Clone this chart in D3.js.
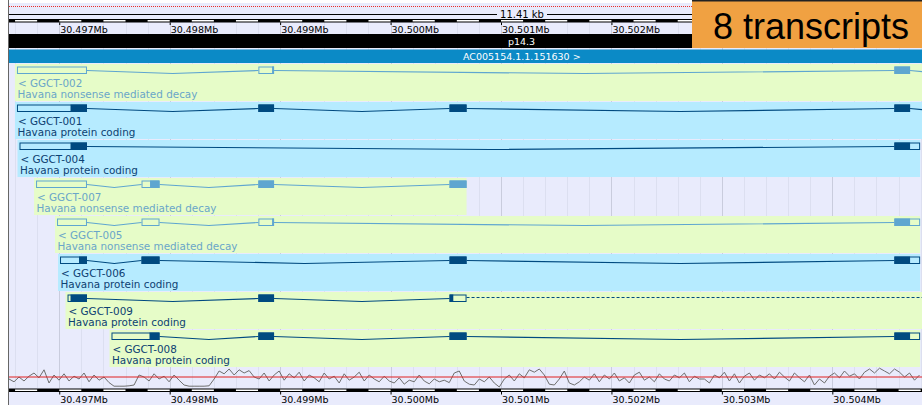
<!DOCTYPE html>
<html>
<head>
<meta charset="utf-8">
<script src="https://cdn.jsdelivr.net/npm/d3@7"></script>
<style>
body { margin: 0; background: #fff; }
svg { display: block; font-family: "DejaVu Sans", sans-serif; }
</style>
</head>
<body>
<svg id="view" width="922" height="405"></svg>
<script>
// region shown (bp)
var regionStart = 30496545, regionEnd = 30504812;
var regionLabel = "11.41 kb";
var bandLabel = "p14.3";
var contigLabel = "AC005154.1.1.151630 >";
var countLabel = "8 transcripts";
var tickValues = [30497000, 30498000, 30499000, 30500000, 30501000, 30502000, 30503000, 30504000];
var tickLabels = ["30.497Mb", "30.498Mb", "30.499Mb", "30.500Mb", "30.501Mb", "30.502Mb", "30.503Mb", "30.504Mb"];

// transcripts, top to bottom
var names = ["GGCT-002", "GGCT-001", "GGCT-004", "GGCT-007", "GGCT-005", "GGCT-006", "GGCT-009", "GGCT-008"];
var biotypes = ["nmd", "pc", "pc", "nmd", "nmd", "pc", "pc", "pc"];
var biotypeText = {nmd: "Havana nonsense mediated decay", pc: "Havana protein coding"};
var highlights = ["green", "blue", "blue", "green", "green", "blue", "green", "green"];
var exons = [
    [[30496617, 30497251], [30498803, 30498945], [30504562, 30504704], [30505300, 30505400]],
    [[30496617, 30497251], [30498803, 30498945], [30500534, 30500688], [30504562, 30504704], [30505300, 30505400]],
    [[30496640, 30497251], [30504562, 30504795]],
    [[30496790, 30497251], [30497745, 30497908], [30498803, 30498945], [30500534, 30500688]],
    [[30496980, 30497251], [30497745, 30497908], [30498803, 30498945], [30504562, 30504795]],
    [[30497007, 30497251], [30497745, 30497908], [30500534, 30500688], [30504562, 30504795]],
    [[30497075, 30497251], [30498803, 30498945], [30500534, 30500688]],
    [[30497473, 30497908], [30498803, 30498945], [30500534, 30500688], [30504562, 30504795]]
];
var cdsStarts = [30498927, 30497102, 30497102, 30497822, 30498927, 30497179, 30497102, 30497817];
var cdsEnds = [30505400, 30505400, 30504704, 30500688, 30504704, 30504704, 30500568, 30504704];
var dashedEnds = [null, null, null, null, null, null, 30505400, null];

// GC content, %, one value every gcStep bp
var gcStart = 30496545, gcStep = 45.3;
var gcValues = [
    45, 38, 50, 40, 52, 60, 48, 68, 35, 55, 42,
    58, 40, 52, 45, 60, 38, 55, 42, 50, 36,
    27, 27, 27, 28, 30,
    55, 50, 40, 58, 45, 52, 38, 55, 42, 30,
    27, 27, 27, 27, 28,
    45, 65, 58, 70, 55, 68, 60, 66, 50,
    45, 60, 40, 55, 65, 42, 58, 48, 62, 40, 55,
    48, 38, 60, 45, 52, 35, 58, 42, 50, 62, 40, 55, 45, 38, 52,
    40, 35, 48, 32, 42, 38, 55, 40, 33, 45, 38, 42, 36, 60,
    65, 40, 32, 30, 45, 38, 50, 35, 25,
    45, 55, 40, 58, 48, 68, 62, 70, 55,
    32, 30, 45, 65, 35, 30, 38,
    50, 42, 58, 38, 55, 45, 60, 40, 48, 35, 55, 62, 42, 50, 38, 58, 45, 40, 55, 48, 60, 38, 52, 45,
    45, 35, 55, 48, 62, 40, 58, 35, 52, 60, 42, 55, 48,
    58, 45, 62, 50, 40, 60, 48, 38, 55, 30, 45, 35, 52,
    60, 48, 65, 52, 58, 45,
    62, 70, 60, 72, 65, 58, 70, 62,
    50, 60, 42, 55
];

var colors = {
    bg: "#e9ebfc", gridMinor: "#dcdff0", gridMajor: "#c9ccdd",
    green: "#e6fcc8", blue: "#b6ebff",
    nmd: "#5fa6d0", pc: "#004a80",
    nmdText: "#6aa6c9", pcText: "#0d4172",
    contig: "#0b8ac6", orange: "#f0a142"
};

var left = 9, right = 922, rowTop = 64, rowStep = 38, rowH = 37;
var badgeLeft = 692;
var x = d3.scaleLinear().domain([regionStart, regionEnd]).range([left, right]);
var gcY = d3.scaleLinear().domain([0, 100]).range([397, 357]);

var svg = d3.select("#view");
svg.append("defs").append("clipPath").attr("id", "clip")
    .append("rect").attr("x", left).attr("y", 0).attr("width", right - left).attr("height", 405);

svg.append("rect").attr("x", left).attr("y", 3).attr("width", right - left).attr("height", 402).attr("fill", colors.bg);
svg.append("line").attr("x1", left - 0.5).attr("x2", left - 0.5).attr("y1", 0).attr("y2", 405)
    .attr("stroke", "#666").attr("stroke-width", 1);

var main = svg.append("g").attr("clip-path", "url(#clip)");

// grid
var gridPos = d3.range(Math.ceil(regionStart / 200) * 200, regionEnd, 200);
main.selectAll(".grid").data(gridPos).enter().append("line")
    .attr("x1", function (d) { return Math.round(x(d)) + 0.5; })
    .attr("x2", function (d) { return Math.round(x(d)) + 0.5; })
    .attr("y1", 22).attr("y2", 388)
    .attr("stroke", function (d) { return d % 1000 == 0 ? colors.gridMajor : colors.gridMinor; });

// top: red dotted + length line
main.append("line").attr("x1", left).attr("x2", badgeLeft).attr("y1", 6.5).attr("y2", 6.5)
    .attr("stroke", "#e8302a").attr("stroke-dasharray", "1,1");
main.append("line").attr("x1", left).attr("x2", badgeLeft).attr("y1", 14.5).attr("y2", 14.5).attr("stroke", "#000");
main.append("rect").attr("x", 497).attr("y", 9).attr("width", 50).attr("height", 10).attr("fill", colors.bg);
main.append("text").attr("x", 522).attr("y", 18).attr("text-anchor", "middle")
    .attr("font-size", 10).attr("fill", "#000").text(regionLabel);

function ruler(y, labelY, maxX) {
    var segs = d3.range(Math.floor(regionStart / 200) * 200, regionEnd, 200);
    var ticks = tickValues.filter(function (d) { return x(d) + 50 < maxX; });
    main.append("rect").attr("x", left).attr("y", y).attr("width", maxX - left).attr("height", 3.5).attr("fill", "#000");
    main.selectAll(null).data(segs.filter(function (d) { return (d / 200) % 2 == 1 && x(d) < maxX; })).enter().append("rect")
        .attr("x", function (d) { return x(d); })
        .attr("width", function (d) { return Math.min(x(d + 200), maxX) - x(d); })
        .attr("y", y + 1).attr("height", 1.5).attr("fill", "#fff");
    var axis = d3.axisBottom(x).tickValues(ticks)
        .tickFormat(function (d) { return tickLabels[tickValues.indexOf(d)]; })
        .tickSize(2.5).tickSizeOuter(0);
    var g = main.append("g").attr("transform", "translate(0," + (y + 3.5) + ")").call(axis);
    g.select(".domain").remove();
    g.selectAll("text").attr("text-anchor", "start").attr("dx", 0).attr("x", 0.5)
        .attr("y", labelY - y - 3.5).attr("dy", 0)
        .attr("font-family", "DejaVu Sans, sans-serif").attr("font-size", 9.5).attr("fill", "#000");
}
ruler(19, 32.5, badgeLeft);

// chromosome band + contig
main.append("rect").attr("x", left).attr("y", 34).attr("width", right - left).attr("height", 14).attr("fill", "#000");
main.append("text").attr("x", 521.5).attr("y", 45).attr("text-anchor", "middle")
    .attr("font-size", 9.5).attr("fill", "#fff").text(bandLabel);
main.append("rect").attr("x", left).attr("y", 49.5).attr("width", right - left).attr("height", 13.5).attr("fill", colors.contig);
main.append("text").attr("x", 463).attr("y", 59.5)
    .attr("font-size", 9.5).attr("fill", "#fff").text(contigLabel);

// transcripts
names.forEach(function (name, i) {
    var top = rowTop + rowStep * i;
    var ex = exons[i];
    var bt = biotypes[i];
    var col = colors[bt];
    var tStart = ex[0][0];
    var tEnd = dashedEnds[i] || ex[ex.length - 1][1];
    var cy = top + 6.5;
    var g = main.append("g");

    var bgRight = Math.min(right, Math.max(x(tEnd), x(tStart) + 190));
    g.append("rect").attr("x", x(tStart) - 2).attr("y", top).attr("width", bgRight - x(tStart) + 2)
        .attr("height", rowH).attr("fill", colors[highlights[i]]);

    // introns as shallow hats
    var introns = d3.pairs(ex).map(function (p) { return [p[0][1], p[1][0]]; });
    g.selectAll(".intron").data(introns).enter().append("polyline")
        .attr("points", function (d) {
            var a = x(d[0]), b = x(d[1]);
            return a + "," + cy + " " + (a + b) / 2 + "," + (cy + 3) + " " + b + "," + cy;
        })
        .attr("fill", "none").attr("stroke", col).attr("stroke-width", 1.2);

    if (dashedEnds[i]) {
        g.append("line").attr("x1", x(ex[ex.length - 1][1])).attr("x2", x(dashedEnds[i]))
            .attr("y1", cy - 1).attr("y2", cy - 1)
            .attr("stroke", col).attr("stroke-dasharray", "3,2");
    }

    g.selectAll(".exon").data(ex).enter().append("rect")
        .attr("x", function (d) { return x(d[0]) + 0.5; })
        .attr("width", function (d) { return Math.max(0, x(d[1]) - x(d[0]) - 1); })
        .attr("y", top + 3).attr("height", 6.5)
        .attr("fill", "none").attr("stroke", col).attr("stroke-width", 1);
    var coding = ex.map(function (d) {
        return [Math.max(d[0], cdsStarts[i]), Math.min(d[1], cdsEnds[i])];
    }).filter(function (d) { return d[1] > d[0]; });
    g.selectAll(".cds").data(coding).enter().append("rect")
        .attr("x", function (d) { return x(d[0]); })
        .attr("width", function (d) { return x(d[1]) - x(d[0]); })
        .attr("y", top + 2.5).attr("height", 7.5).attr("fill", col);

    var tc = bt == "nmd" ? colors.nmdText : colors.pcText;
    g.append("text").attr("x", x(tStart) + 1).attr("y", top + 23)
        .attr("font-size", 10.4).attr("fill", tc).text("< " + name);
    g.append("text").attr("x", x(tStart) + 0.5).attr("y", top + 34)
        .attr("font-size", 10.4).attr("fill", tc).text(biotypeText[bt]);
});

// GC track
main.append("path")
    .datum(gcValues)
    .attr("d", d3.line()
        .x(function (d, i) { return x(gcStart + i * gcStep); })
        .y(function (d) { return gcY(d); }))
    .attr("fill", "none").attr("stroke", "#6e6e6e").attr("stroke-width", 1);
main.append("line").attr("x1", left).attr("x2", right).attr("y1", gcY(50)).attr("y2", gcY(50))
    .attr("stroke", "#e02020").attr("stroke-width", 1);

ruler(388.5, 402.5, right);

// transcript count badge
svg.append("rect").attr("x", badgeLeft).attr("y", 0).attr("width", right - badgeLeft).attr("height", 48).attr("fill", colors.orange);
svg.append("rect").attr("x", badgeLeft).attr("y", 0).attr("width", right - badgeLeft).attr("height", 1.5).attr("fill", "#222");
svg.append("text").attr("x", 713).attr("y", 38.5)
    .attr("font-family", "Liberation Sans, Arial, sans-serif").attr("font-size", 36)
    .attr("fill", "#000").text(countLabel);
</script>
</body>
</html>
